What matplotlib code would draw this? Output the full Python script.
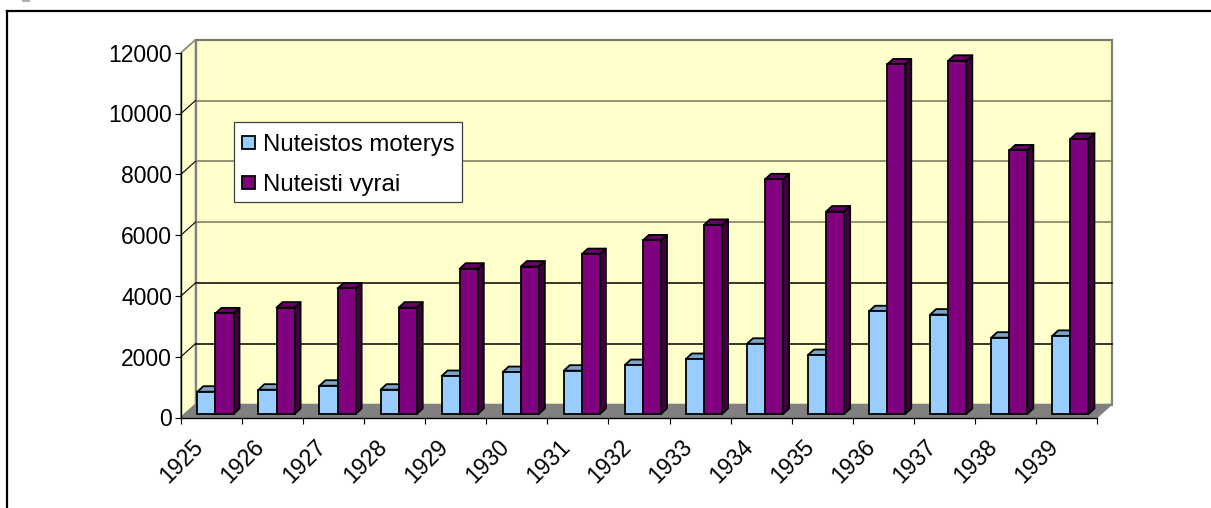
import matplotlib
matplotlib.use("Agg")
import matplotlib.pyplot as plt
import numpy as np
from matplotlib.legend_handler import HandlerPatch
from matplotlib.lines import Line2D
from matplotlib.patches import Patch, Polygon, Rectangle
from matplotlib.transforms import ScaledTranslation

plt.rcParams['font.family'] = ['Liberation Sans', 'DejaVu Sans']

years = ['1925', '1926', '1927', '1928', '1929', '1930', '1931', '1932',
         '1933', '1934', '1935', '1936', '1937', '1938', '1939']
women = [733, 800, 930, 800, 1250, 1380, 1425, 1610, 1810, 2310, 1940, 3380, 3270, 2510, 2570]
men = [3310, 3500, 4130, 3500, 4780, 4850, 5260, 5710, 6220, 7720, 6660, 11500, 11620, 8670, 9050]
y_ticks = [0, 2000, 4000, 6000, 8000, 10000, 12000]
grid_colors = ['#000000', '#000000', '#77775a', '#77775a', '#77775a', '#77775a']
series_labels = ['Nuteistos moterys', 'Nuteisti vyrai']

W, H = 1211, 508
fig = plt.figure(figsize=(W / 100, H / 100), dpi=100, facecolor='white')
ax = fig.add_axes([181 / W, 1 - 417.5 / H, 916 / W, 364.8 / H])
ax.set_xlim(0, len(years))
ax.set_ylim(0, 12000)
ax.patch.set_visible(False)

# pixel sizes turned into data units, for the fake 3d depth
px_x = len(years) / 916
px_y = 12000 / 364.8
wall_dx, wall_dy = 14.5 * px_x, 13 * px_y
bar_dx, bar_dy = 6 * px_x, 5.5 * px_y
lift = 3.5 * px_y
bar_off, bar_w = 0.268, 0.296
n = len(years)
top = y_ticks[-1]

# walls and floor
ax.add_patch(Polygon([(0, 0), (0, top), (wall_dx, top + wall_dy), (wall_dx, wall_dy)],
                     fc='#FFFFCC', ec='#808080', lw=1, clip_on=False, zorder=1))
ax.add_patch(Polygon([(wall_dx, wall_dy), (wall_dx, top + wall_dy), (n + wall_dx, top + wall_dy), (n + wall_dx, wall_dy)],
                     fc='#FFFFCC', ec='#808080', lw=1.6, clip_on=False, zorder=1))
ax.add_patch(Polygon([(0, 0), (wall_dx, wall_dy), (n + wall_dx, wall_dy), (n, 0)],
                     fc='#808080', ec='#808080', lw=1, clip_on=False, zorder=2))

# gridlines, back wall and side wall
for val, col in zip(y_ticks[1:], grid_colors):
    ax.add_line(Line2D([wall_dx, n + wall_dx], [val + wall_dy] * 2, color=col, lw=1.1, clip_on=False, zorder=2))
for val in y_ticks[1:]:
    c = '#808080' if val == top else 'black'
    ax.add_line(Line2D([0, wall_dx], [val, val + wall_dy], color=c, lw=0.8, clip_on=False, zorder=2))
ax.add_line(Line2D([0, wall_dx], [0, wall_dy], color='#808080', lw=0.8, clip_on=False, zorder=2))


def draw_bars(x, vals, front, side, roof, z):
    for xi, v in zip(x, vals):
        r = xi + bar_w
        t = v + lift
        ax.add_patch(Polygon([(r, lift), (r + bar_dx, lift + bar_dy), (r + bar_dx, t + bar_dy), (r, t)],
                             fc=side, ec='black', lw=1.3, joinstyle='round', clip_on=False, zorder=z))
        ax.add_patch(Polygon([(xi, t), (xi + bar_dx, t + bar_dy), (r + bar_dx, t + bar_dy), (r, t)],
                             fc=roof, ec='black', lw=1.3, joinstyle='round', clip_on=False, zorder=z))
    ax.bar(x, vals, width=bar_w, bottom=lift, align='edge', color=front, edgecolor='black',
           linewidth=1.3, clip_on=False, zorder=z + 0.1)


x = np.arange(n)
draw_bars(x + bar_off, women, '#99CCFF', '#5F7F9F', '#7AA3CC', 3)
draw_bars(x + bar_off + bar_w, men, '#800080', '#400040', '#660066', 4)

# axes
for s in ['top', 'right']:
    ax.spines[s].set_visible(False)
for s in ['left', 'bottom']:
    ax.spines[s].set_color('black')
    ax.spines[s].set_linewidth(1.0)
    ax.spines[s].set_zorder(5)
ax.set_yticks(y_ticks)
ax.set_xticks(np.arange(n + 1), years + [''])
ax.tick_params(axis='y', length=4.3, width=0.8, pad=2.2, labelsize=16.5)
ax.tick_params(axis='x', length=4.6, width=0.8, pad=8.5, labelsize=16.5)
shift = ScaledTranslation(1 / 100, 0, fig.dpi_scale_trans)
for lab in ax.get_xticklabels():
    lab.set_rotation(45)
    lab.set_ha('center')
    lab.set_transform(lab.get_transform() + shift)


def small_swatch(legend, orig_handle, xdescent, ydescent, width, height, fontsize):
    # swatch is square and smaller than the legend row
    side = width
    return Rectangle((-xdescent, -ydescent + (height - side) / 2), side, side)


# legend box drawn apart, the padding in it is not even
ax.add_patch(Rectangle((233.5 / W, 1 - 202 / H), 228.5 / W, 80 / H, transform=fig.transFigure,
                       fc='white', ec='#404040', lw=0.9, clip_on=False, zorder=9))
handles = [Patch(fc='#99CCFF', ec='black', lw=1.3), Patch(fc='#800080', ec='black', lw=1.3)]
leg = ax.legend(handles, series_labels, loc='upper left',
                bbox_to_anchor=(242 / W, 1 - 132 / H), bbox_transform=fig.transFigure,
                fontsize=17.3, frameon=False,
                handlelength=0.55, handleheight=1.0, handletextpad=0.33,
                labelspacing=0.66, borderpad=0, borderaxespad=0,
                handler_map={Patch: HandlerPatch(patch_func=small_swatch)})
leg.set_zorder(10)

# outer frame, cut by the image edge on the right and bottom
fig.add_artist(Line2D([7 / W, 7 / W], [0, 1 - 11 / H], color='black', lw=1.6))
fig.add_artist(Line2D([7 / W, 1], [1 - 11 / H, 1 - 11 / H], color='black', lw=1.6))
fig.add_artist(Rectangle((22 / W, 1 - 1.5 / H), 8 / W, 1.5 / H, fc='#b0b0b0', ec='none'))

fig.savefig('out.png', dpi=100)
plt.close()
